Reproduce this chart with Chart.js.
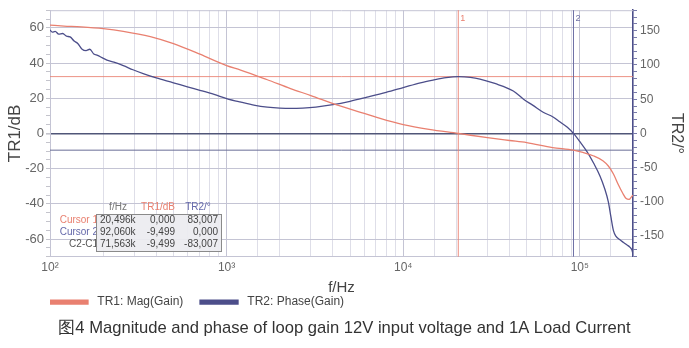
<!DOCTYPE html>
<html>
<head>
<meta charset="utf-8">
<script src="https://cdn.jsdelivr.net/npm/chart.js@4.4.0/dist/chart.umd.min.js"></script>
<style>
  html, body { margin: 0; padding: 0; background: #fff; }
  #wrap { width: 689px; height: 348px; }
</style>
</head>
<body>
<div id="wrap"><canvas id="bode"></canvas></div>
<script>
// TR1: magnitude of loop gain (dB)
const magFreq = [100, 120, 150, 200, 260, 370, 500, 706, 1000, 1200, 1700, 2300, 3000, 4200, 6200, 7400,
  10000, 14000, 20496, 30000, 40000, 50000, 70000, 92060, 104000, 120000, 135000, 145000, 155000,
  165000, 175000, 183000, 190000, 196000, 200000];
const magDb = [61.5, 61, 60.5, 59.5, 58, 55, 51, 45, 38.5, 36, 30.5, 25.5, 21.5, 16.2, 11, 8.5,
  5, 2.3, 0, -2.4, -4, -5.2, -8, -9.5, -10.8, -12.8, -15.5, -18.5, -23,
  -29, -34, -37, -37.5, -36, -35];

// TR2: phase of loop gain (deg)
const phaseFreq = [100, 103, 107, 112, 118, 124, 130, 137, 144, 152, 160, 168, 177, 186, 196, 210, 230,
  260, 295, 340, 400, 500, 600, 706, 850, 1000, 1190, 1450, 1700, 2000, 2300, 2700, 3200, 4000, 5000,
  6240, 8000, 10000, 12500, 14750, 17500, 20500, 24000, 27200, 33000, 42000, 48000, 54300, 62000,
  70500, 77000, 85000, 92000, 100000, 110000, 120000, 130000, 138000, 145000, 150000, 155000, 160000,
  168000, 176000, 185000, 192000, 197000, 200000];
const phaseDeg = [151, 148, 149, 145, 146, 142, 141, 135, 131, 123, 121, 123, 116, 114, 111, 107, 104,
  99, 93, 87, 81, 74, 68, 63, 57, 51, 46, 41, 38.5, 37, 36.5, 37, 38.5, 42, 47,
  53, 60, 67, 74, 78, 81.5, 83, 82, 79.5, 73, 62, 50, 41, 31,
  24, 17, 9, 0, -12, -27, -44, -62, -80, -100, -122, -142, -150,
  -155, -159, -163, -166, -170, -176];

// cursor readout
const cursorFreq = [20496, 92060];
const cursorMag = [0, -9.499];
const cursorPhase = [83.007, 0];
const tableHead = ['f/Hz', 'TR1/dB', 'TR2/°'];
const tableRows = [
  ['Cursor 1', '20,496k', '0,000', '83,007'],
  ['Cursor 2', '92,060k', '-9,499', '0,000'],
  ['C2-C1', '71,563k', '-9,499', '-83,007']
];

const RED = 'rgb(233,128,112)';
const BLUE = 'rgb(76,78,138)';
const GRID = 'rgb(222,222,232)';
const GRID_DEC = 'rgb(196,196,212)';
const sup = { 2: '²', 3: '³', 4: '⁴', 5: '⁵' };
const FONT = 'Liberation Sans, Arial, sans-serif';

const toPoints = (xs, ys) => xs.map((x, i) => ({ x: x, y: ys[i] }));

function hline(ctx, x1, x2, y, color, w) {
  ctx.strokeStyle = color; ctx.lineWidth = w;
  ctx.beginPath(); ctx.moveTo(x1, y); ctx.lineTo(x2, y); ctx.stroke();
}

const cursorPlugin = {
  id: 'cursors',
  beforeDatasetsDraw(chart) {
    const { ctx, chartArea: a, scales } = chart;
    ctx.save();
    hline(ctx, a.left, a.right, a.top + 0.5, GRID_DEC, 1);
    // horizontal cursor lines
    hline(ctx, a.left, a.right, scales.y2.getPixelForValue(cursorPhase[0]), 'rgba(233,128,112,0.85)', 1);
    hline(ctx, a.left, a.right, scales.y.getPixelForValue(cursorMag[1]), 'rgb(105,110,150)', 1);
    // vertical cursor lines
    cursorFreq.forEach((f, i) => {
      const px = scales.x.getPixelForValue(f);
      ctx.strokeStyle = i === 0 ? 'rgba(233,128,112,0.9)' : 'rgb(110,112,165)';
      ctx.lineWidth = 1;
      ctx.beginPath(); ctx.moveTo(px, a.top); ctx.lineTo(px, a.bottom); ctx.stroke();
      ctx.fillStyle = i === 0 ? RED : 'rgb(110,112,165)';
      ctx.font = '9px ' + FONT;
      ctx.textAlign = 'left'; ctx.textBaseline = 'middle';
      ctx.fillText(String(i + 1), px + 2, a.top + 8);
    });
    ctx.restore();
  },
  afterDraw(chart) {
    const { ctx } = chart;
    ctx.save();
    ctx.font = '10px ' + FONT;
    ctx.textBaseline = 'middle';
    // header
    const headX = [118, 158, 198];
    const headCol = ['#777', RED, 'rgb(100,104,170)'];
    ctx.textAlign = 'center';
    tableHead.forEach((t, i) => { ctx.fillStyle = headCol[i]; ctx.fillText(t, headX[i], 207); });
    // row labels
    const rowY = [220, 232, 244];
    const rowCol = [RED, 'rgb(100,104,170)', '#555'];
    ctx.textAlign = 'right';
    tableRows.forEach((r, i) => { ctx.fillStyle = rowCol[i]; ctx.fillText(r[0], 98, rowY[i]); });
    // box
    ctx.fillStyle = 'rgba(236,236,240,0.92)';
    ctx.fillRect(96, 214, 125, 37);
    ctx.strokeStyle = '#8a8a8a'; ctx.lineWidth = 1;
    ctx.strokeRect(96.5, 214.5, 125, 37);
    ctx.fillStyle = '#444';
    tableRows.forEach((r, i) => {
      ctx.textAlign = 'left'; ctx.fillText(r[1], 100, rowY[i]);
      ctx.textAlign = 'right'; ctx.fillText(r[2], 175, rowY[i]);
      ctx.fillText(r[3], 218, rowY[i]);
    });
    ctx.restore();
  }
};

new Chart(document.getElementById('bode'), {
  type: 'line',
  data: {
    datasets: [
      {
        label: 'TR1: Mag(Gain)',
        data: toPoints(magFreq, magDb),
        yAxisID: 'y',
        borderColor: RED, backgroundColor: RED,
        borderWidth: 1.3, pointRadius: 0, cubicInterpolationMode: 'monotone'
      },
      {
        label: 'TR2: Phase(Gain)',
        data: toPoints(phaseFreq, phaseDeg),
        yAxisID: 'y2',
        borderColor: BLUE, backgroundColor: BLUE,
        borderWidth: 1.3, pointRadius: 0, cubicInterpolationMode: 'monotone'
      }
    ]
  },
  options: {
    responsive: true,
    maintainAspectRatio: false,
    animation: false,
    layout: { padding: { top: 7, left: 0, right: 0, bottom: 0 } },
    scales: {
      x: {
        type: 'logarithmic',
        min: 100, max: 200000,
        border: { color: GRID_DEC },
        grid: {
          color: c => {
            const e = Math.log10(c.tick.value);
            return Math.abs(e - Math.round(e)) < 1e-6 ? GRID_DEC : GRID;
          },
          tickLength: 4, tickColor: 'transparent'
        },
        ticks: {
          autoSkip: false, maxRotation: 0, padding: 0,
          color: '#666', font: { family: FONT, size: 12 },
          callback: v => {
            const e = Math.log10(v);
            return Math.abs(e - Math.round(e)) < 1e-6 ? '10' + sup[Math.round(e)] : '';
          }
        },
        // shifted a few px down without changing the axis height
        title: { display: true, text: 'f/Hz', color: '#444', font: { family: FONT, size: 15 }, padding: { top: 4, bottom: -1 } }
      },
      y: {
        position: 'left',
        min: -70, max: 70,
        afterFit: s => { s.width = 50; },
        border: { color: GRID_DEC },
        grid: {
          color: c => c.tick.value === 0 ? 'rgb(80,86,120)' : (c.tick.value % 20 === 0 ? GRID_DEC : 'transparent'),
          lineWidth: c => c.tick.value === 0 ? 1.6 : 1,
          tickLength: 4, tickColor: '#c4c4cc'
        },
        ticks: {
          stepSize: 5, autoSkip: false, padding: 2,
          color: '#666', font: { family: FONT, size: 13 },
          callback: v => v % 20 === 0 ? v : ''
        },
        title: { display: true, text: 'TR1/dB', color: '#444', font: { family: FONT, size: 17 }, padding: { top: 5, bottom: 0 } }
      },
      y2: {
        position: 'right',
        min: -180, max: 180,
        afterFit: s => { s.width = 56; },
        border: { color: BLUE, width: 1.5 },
        grid: { drawOnChartArea: false, tickLength: 4, tickColor: 'rgb(120,122,170)' },
        ticks: {
          stepSize: 10, autoSkip: false, padding: 3,
          color: '#666', font: { family: FONT, size: 12 },
          callback: v => (v % 50 === 0 && Math.abs(v) <= 150) ? v : ''
        },
        title: { display: true, text: 'TR2/°', color: '#444', font: { family: FONT, size: 16 }, padding: { top: 3, bottom: 0 } }
      }
    },
    plugins: {
      legend: {
        position: 'bottom', align: 'start', fullSize: false,
        labels: {
          boxWidth: 38, boxHeight: 4, padding: 0,
          color: '#444', font: { family: FONT, size: 12 },
          // widen the gaps between swatch, text and next item
          generateLabels: chart => Chart.defaults.plugins.legend.labels.generateLabels(chart)
            .map(l => Object.assign(l, { text: ' ' + l.text + '     ' }))
        }
      },
      title: {
        display: true, position: 'bottom',
        text: '图4 Magnitude and phase of loop gain 12V input voltage and 1A Load Current',
        color: '#333', font: { family: FONT, size: 16.6, weight: 'normal' },
        padding: { top: 0, bottom: 10 }
      },
      tooltip: { enabled: false }
    }
  },
  plugins: [cursorPlugin]
});
</script>
</body>
</html>
